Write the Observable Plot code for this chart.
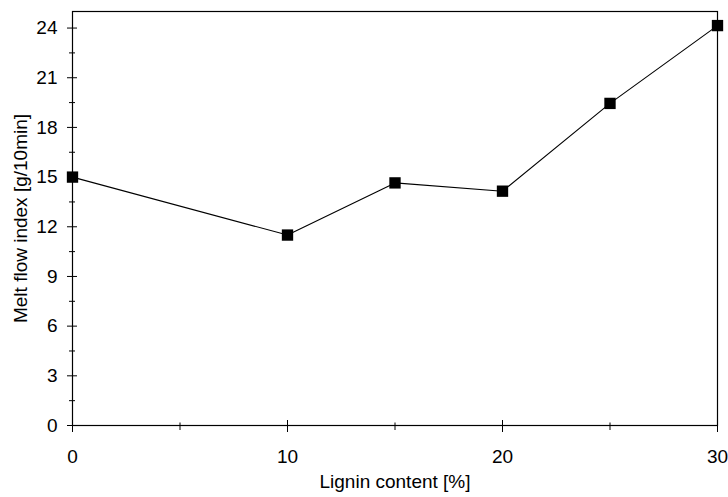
<!DOCTYPE html>
<html>
<head>
<meta charset="utf-8">
<script src="https://cdn.jsdelivr.net/npm/d3@7"></script>
<script src="https://cdn.jsdelivr.net/npm/@observablehq/plot@0.6"></script>
<style>
  html, body { margin: 0; padding: 0; background: #fff; }
  #chart { width: 728px; height: 497px; }
</style>
</head>
<body>
<div id="chart"></div>
<script>
const lignin = [0, 10, 15, 20, 25, 30];
const mfi = [15.0, 11.5, 14.65, 14.15, 19.45, 24.15];
const xMajor = [0, 10, 20, 30];
const xMinor = [5, 15, 25];
const yMajor = [0, 3, 6, 9, 12, 15, 18, 21, 24];
const yMinor = [1.5, 4.5, 7.5, 10.5, 13.5, 16.5, 19.5, 22.5];

const data = lignin.map((x, i) => ({x, y: mfi[i]}));
const font = "'Liberation Sans', Arial, sans-serif";

const plot = Plot.plot({
  width: 728,
  height: 497,
  marginLeft: 72,
  marginRight: 11,
  marginTop: 11,
  marginBottom: 72,
  style: {fontFamily: font, fontSize: "19.5px", color: "#000", background: "#fff"},
  x: {domain: [0, 30]},
  y: {domain: [0, 25]},
  marks: [
    Plot.frame({stroke: "#000", strokeWidth: 1.2}),
    Plot.axisX({ticks: xMajor, tickSize: 7, tickPadding: 17, tickFormat: d => d, fontSize: 19,
      label: "Lignin content [%]", labelAnchor: "center", labelArrow: false, labelOffset: 62}),
    Plot.axisX({ticks: xMajor, tickSize: -5, text: null, label: null}),
    Plot.axisX({ticks: xMinor, tickSize: 5, text: null, label: null}),
    Plot.axisX({ticks: xMinor, tickSize: -2.5, text: null, label: null}),
    Plot.axisY({ticks: yMajor, tickSize: 5, tickPadding: 10, tickFormat: d => d, fontSize: 19,
      label: "Melt flow index [g/10min]", labelAnchor: "center", labelArrow: false, labelOffset: 59}),
    Plot.axisY({ticks: yMajor, tickSize: -5, text: null, label: null}),
    Plot.axisY({ticks: yMinor, tickSize: 3, text: null, label: null}),
    Plot.axisY({ticks: yMinor, tickSize: -3, text: null, label: null}),
    Plot.line(data, {x: "x", y: "y", stroke: "#000", strokeWidth: 1.1}),
    Plot.dot(data, {x: "x", y: "y", symbol: "square", r: 6.4, fill: "#000", stroke: "none"})
  ]
});
document.getElementById("chart").appendChild(plot);
</script>
</body>
</html>
